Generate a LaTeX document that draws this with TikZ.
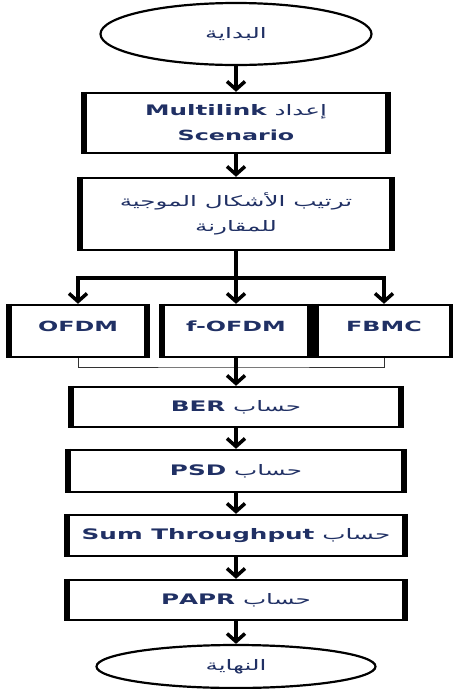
\documentclass[tikz,border=0pt]{standalone}
\usepackage{fontspec}
\usepackage{graphicx}
\setmainfont{DejaVu Sans}
\newfontfamily\arabicfont[Script=Arabic]{DejaVu Sans}
\TeXXeTstate=1
\usetikzlibrary{shapes.geometric,positioning,arrows.meta}

\definecolor{inkblue}{RGB}{32,48,100}
\newcommand{\wide}[1]{\scalebox{1.7}[1]{#1}}
\newcommand{\ar}[1]{{\arabicfont\fontsize{14.5}{24}\selectfont #1}}
\newcommand{\lat}[1]{\beginL{\bfseries #1}\endL}

\begin{document}
\begin{tikzpicture}[x=1pt,y=1pt,on grid,
    font=\fontsize{14}{25}\selectfont,
    term/.style={ellipse,draw,line width=2.2pt,inner sep=0pt,
      minimum width=271pt,minimum height=62pt,text=inkblue},
    box/.style={rectangle,draw,line width=2.4pt,align=center,text=inkblue,
      minimum width=340pt,minimum height=41pt},
    wave/.style={box,minimum height=52pt,text depth=10pt},
    side/.style={line width=6pt},
    flow/.style={-{Straight Barb[length=8pt,width=18pt]},line width=3.5pt},
    mergeline/.style={line width=0.8pt,draw=black!80}]
    \useasboundingbox (0,0) rectangle (453,-689);
    \node[term] (start) at (236,-34) {\wide{\ar{\beginR البداية\endR}}};
    \node[box,minimum width=306pt,minimum height=60pt] (setup) [below=89pt of start]
      {\wide{\ar{\beginR إعداد \lat{Multilink}\endR}}\\\wide{\lat{Scenario}}};
    \node[box,minimum width=315pt,minimum height=72pt] (sort) [below=91pt of setup]
      {\wide{\ar{\beginR ترتيب الأشكال الموجية\endR}}\\\wide{\ar{\beginR للمقارنة\endR}}};
    \node[wave,minimum width=150pt] (fofdm) [below=117pt of sort] {\wide{\lat{f-OFDM}}};
    \node[wave,minimum width=140pt] (ofdm) [left=158pt of fofdm] {\wide{\lat{OFDM}}};
    \node[wave,minimum width=138pt] (fbmc) [right=148pt of fofdm] {\wide{\lat{FBMC}}};
    \node[box,minimum width=333pt,minimum height=40pt] (ber) [below=76pt of fofdm]
      {\wide{\ar{\beginR حساب \lat{BER}\endR}}};
    \node[box,minimum width=339pt,minimum height=42pt] (psd) [below=64pt of ber]
      {\wide{\ar{\beginR حساب \lat{PSD}\endR}}};
    \node[box] (sum) [below=64.5pt of psd]
      {\wide{\ar{\beginR حساب \lat{Sum Throughput}\endR}}};
    \node[box,minimum height=40pt] (papr) [below=64.5pt of sum]
      {\wide{\ar{\beginR حساب \lat{PAPR}\endR}}};
    \node[term,minimum width=279pt,minimum height=43pt] (end) [below=66.5pt of papr]
      {\wide{\ar{\beginR النهاية\endR}}};
    \coordinate[below=64pt of sort] (fork);
    \coordinate[below=36pt of fofdm] (merge);
    % heavy left and right edges
    \foreach \n in {setup,sort,ofdm,fofdm,fbmc,ber,psd,sum,papr}
      \draw[side] ([xshift=2.5pt]\n.north west) -- ([xshift=2.5pt]\n.south west)
                  ([xshift=-2.5pt]\n.north east) -- ([xshift=-2.5pt]\n.south east);
    \draw[flow] (start) -- (setup);
    \draw[flow] (setup) -- (sort);
    \draw[flow] (sort) -- (fofdm);
    \draw[flow] (fork) -| (ofdm);
    \draw[flow] (fork) -| (fbmc);
    \draw[mergeline] (ofdm) |- (merge) -| (fbmc);
    \draw[flow] (fofdm) -- (ber);
    \draw[flow] (ber) -- (psd);
    \draw[flow] (psd) -- (sum);
    \draw[flow] (sum) -- (papr);
    \draw[flow] (papr) -- (end);
\end{tikzpicture}
\end{document}
